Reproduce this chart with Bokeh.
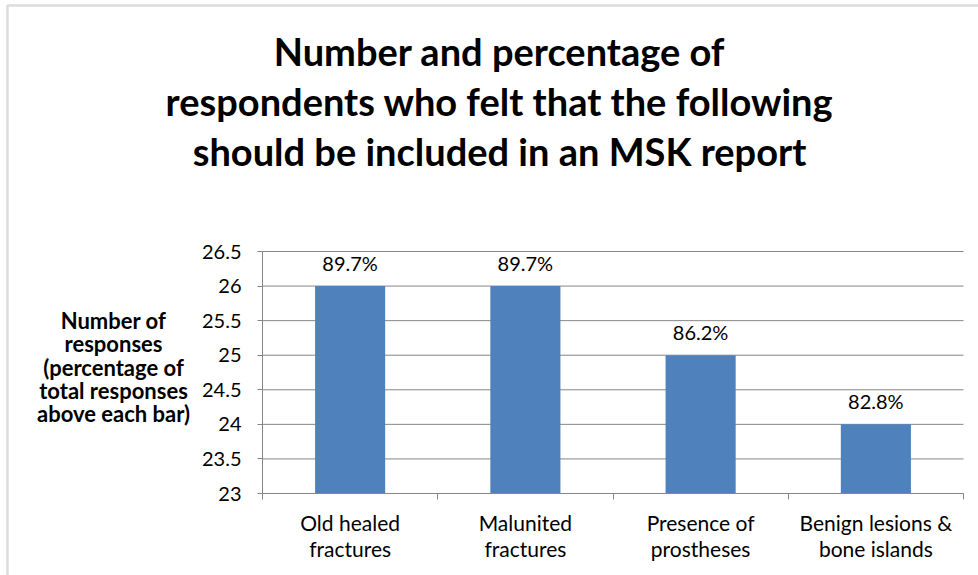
from bokeh.plotting import figure
from bokeh.models import (ColumnDataSource, Range1d, FixedTicker, LabelSet, Label,
                          BoxAnnotation)
from bokeh.core.properties import value
from bokeh.embed import file_html
from bokeh.resources import INLINE

# ---- data ----
categories = ["Old healed\nfractures", "Malunited\nfractures",
              "Presence of\nprostheses", "Benign lesions &\nbone islands"]
responses = [26, 26, 25, 24]
percent_labels = ["89.7%", "89.7%", "86.2%", "82.8%"]
y_ticks = [23, 23.5, 24, 24.5, 25, 25.5, 26, 26.5]
title_lines = ["Number and percentage of",
               "respondents who felt that the following",
               "should be included in an MSK report"]
ylabel_lines = ["Number of", "responses", "(percentage of",
                "total responses", "above each bar)"]

FONT = "Lato"
GRID = "#868686"
BAR = "#4F81BD"

W, H = 978, 575
# plot-area placement in the canvas (px)
PL, PR, PT, PB = 262, 963, 251, 493
ymin, ymax = 23, 26.5
n = len(categories)

xs = n / (PR - PL)            # data units per px
ys = (ymax - ymin) / (PB - PT)
def dx(px):
    return (px - PL) * xs
def dy(py):
    return ymin + (PB - py) * ys

p = figure(width=W, height=H, output_backend="svg", toolbar_location=None,
           x_range=Range1d(dx(0), dx(W)), y_range=Range1d(dy(H), dy(0)),
           min_border=0, min_border_left=0, min_border_right=0,
           min_border_top=0, min_border_bottom=0)
p.outline_line_color = None
p.background_fill_color = "white"
p.border_fill_color = "white"
p.xgrid.visible = False
p.ygrid.visible = False

xc = [i + 0.5 for i in range(n)]
src = ColumnDataSource(dict(x=xc, top=responses, pct=percent_labels))

# horizontal gridlines across the plot area only
p.segment(x0=0, x1=n, y0=y_ticks, y1=y_ticks, line_color=GRID, line_width=1)

p.vbar(x="x", top="top", bottom=ymin, width=0.4, source=src,
       fill_color=BAR, line_color=None)

# y axis
ya = p.yaxis[0]
ya.fixed_location = 0
ya.bounds = (ymin, ymax)
ya.ticker = FixedTicker(ticks=y_ticks)
ya.axis_line_color = GRID
ya.major_tick_line_color = GRID
ya.major_tick_out = 5
ya.major_tick_in = 0
ya.minor_tick_line_color = None
ya.major_label_text_font = FONT
ya.major_label_text_font_size = "20px"
ya.major_label_text_color = "black"
ya.major_label_standoff = 16

# x axis: labels at category centres, tick marks at category boundaries
xa = p.xaxis[0]
xa.fixed_location = ymin
xa.bounds = (0, n)
xa.ticker = FixedTicker(ticks=xc, minor_ticks=list(range(n + 1)))
xa.axis_line_color = GRID
xa.major_tick_line_color = None
xa.major_tick_out = 0
xa.major_tick_in = 0
xa.minor_tick_line_color = GRID
xa.minor_tick_out = 6
xa.minor_tick_in = 0
xa.major_label_overrides = {x: c for x, c in zip(xc, categories)}
xa.major_label_text_font = FONT
xa.major_label_text_font_size = "21px"
xa.major_label_text_color = "black"
xa.major_label_text_line_height = 1.05
xa.major_label_standoff = 10

# percentage labels above bars
p.add_layout(LabelSet(x="x", y="top", text="pct", source=src, y_offset=23,
                      text_align="center", text_baseline="middle",
                      text_font=value(FONT), text_font_size=value("20px"),
                      text_color="black"))

for i, t in enumerate(title_lines):
    p.add_layout(Label(x=dx(499), y=dy(50 + 50 * i), text=t, text_align="center",
                       text_baseline="middle", text_font=FONT, text_font_style="bold",
                       text_font_size="38px", text_color="black"))

for i, t in enumerate(ylabel_lines):
    p.add_layout(Label(x=dx(113), y=dy(320 + 23.3 * i), text=t, text_align="center",
                       text_baseline="middle", text_font=FONT, text_font_style="bold",
                       text_font_size="22px", text_color="black"))

# outer chart border (left and top edges visible)
p.add_layout(BoxAnnotation(left=dx(7), right=dx(W + 20), top=dy(5), bottom=dy(H + 20),
                           fill_color=None, line_color="#8c8c8c", line_width=2.5))

open("out.html", "w").write(file_html(p, INLINE))
